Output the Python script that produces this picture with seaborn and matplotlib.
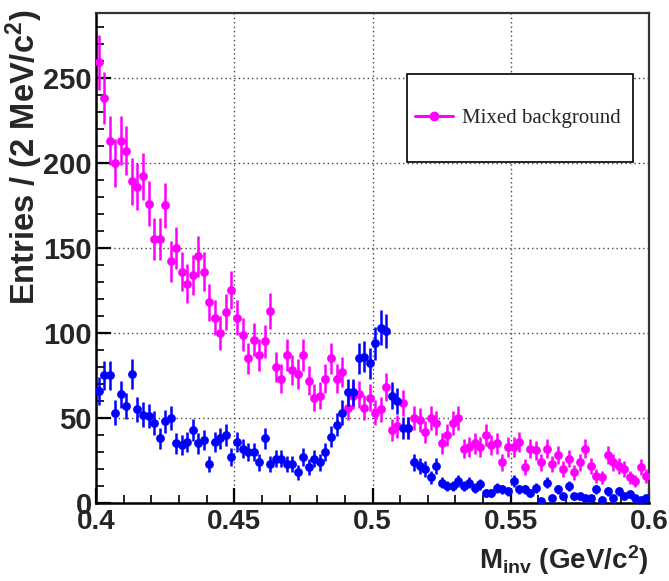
import numpy as np
import pandas as pd
import seaborn as sns
import matplotlib
matplotlib.use("Agg")
import matplotlib.pyplot as plt
from matplotlib.patches import Rectangle
from matplotlib.lines import Line2D
from matplotlib.ticker import MultipleLocator

# Invariant-mass histogram: 2 MeV/c^2 bins between 0.40 and 0.60 GeV/c^2
mass_lo = 0.400
bin_width = 0.002
n_bins = 100
bin_centers = np.round(mass_lo + bin_width * (np.arange(n_bins) + 0.5), 4)

# Entries per bin, mixed-event background
mixed_background = [
    259, 238, 213, 200, 213, 207, 189, 186, 192, 176,
    155, 155, 175, 142, 150, 136, 129, 134, 145, 136,
    118, 109, 100, 112, 125, 109, 99, 85, 96, 87,
    95, 113, 80, 73, 87, 78, 76, 87, 72, 62,
    63, 73, 85, 73, 77, 56, 63, 64, 56, 62,
    53, 55, 68, 43, 45, 59, 44, 50, 49, 42,
    50, 47, 35, 40, 47, 50, 32, 33, 35, 33,
    40, 34, 35, 24, 33, 33, 36, 21, 32, 31,
    24, 32, 23, 28, 20, 26, 18, 24, 32, 22,
    16, 15, 28, 24, 22, 20, 15, 13, 21, 16,
]

# Entries per bin, same-event pairs
same_event = [
    66, 75, 75, 53, 64, 57, 76, 55, 52, 51,
    47, 38, 48, 50, 35, 34, 36, 43, 35, 37,
    23, 36, 38, 40, 27, 36, 32, 30, 30, 24,
    38, 23, 26, 26, 23, 23, 18, 27, 21, 26,
    24, 30, 39, 46, 53, 65, 65, 85, 86, 82,
    94, 103, 101, 63, 60, 44, 44, 24, 22, 20,
    15, 22, 12, 10, 10, 13, 10, 12, 9, 11,
    6, 6, 9, 8, 7, 13, 8, 8, 6, 9,
    1, 12, 3, 8, 4, 10, 4, 4, 3, 3,
    8, 2, 7, 3, 7, 4, 5, 3, 2, 3,
]

x_ticks = [0.4, 0.45, 0.5, 0.55, 0.6]
x_tick_labels = ["0.4", "0.45", "0.5", "0.55", "0.6"]
y_ticks = [0, 50, 100, 150, 200, 250]

MAGENTA = "#ff00ff"
BLUE = "#0000ff"

sns.set_theme(style="ticks")
plt.rcParams["font.family"] = ["Liberation Sans"]
plt.rcParams["font.weight"] = "bold"
plt.rcParams["mathtext.default"] = "regular"

df = pd.DataFrame({
    "mass": np.concatenate([bin_centers, bin_centers]),
    "entries": np.concatenate([mixed_background, same_event]).astype(float),
    "sample": ["mixed"] * n_bins + ["same"] * n_bins,
})
df["err"] = np.sqrt(df["entries"])

fig = plt.figure(figsize=(6.69, 5.81), dpi=100)
ax = fig.add_axes([96 / 669, 1 - 503 / 581, 553 / 669, 490 / 581])

for sample, color, z in [("mixed", MAGENTA, 3), ("same", BLUE, 4)]:
    d = df[df["sample"] == sample]
    ax.errorbar(d["mass"], d["entries"], yerr=d["err"], xerr=bin_width / 2,
                fmt="none", ecolor=color, elinewidth=1.8, capsize=0, zorder=z)
    sns.scatterplot(data=d, x="mass", y="entries", color=color, s=40,
                    linewidth=0, marker="o", ax=ax, zorder=z + 0.5, legend=False)

ax.set_xlim(0.4, 0.6)
ax.set_ylim(0, 288)
ax.set_xticks(x_ticks)
ax.set_xticklabels(x_tick_labels)
ax.set_yticks(y_ticks)
ax.xaxis.set_minor_locator(MultipleLocator(0.01))
ax.yaxis.set_minor_locator(MultipleLocator(10))

ax.grid(True, which="major", color="#444444", linestyle=(0, (1, 2.2)), linewidth=1.0)
ax.set_axisbelow(True)

ax.tick_params(axis="both", which="major", direction="in", length=11, width=1.6,
               color="black", top=False, right=False)
ax.tick_params(axis="both", which="minor", direction="in", length=5.5, width=1.2,
               color="black", top=False, right=False)
ax.tick_params(axis="y", which="major", pad=3, labelsize=21)
ax.tick_params(axis="x", which="major", pad=4, labelsize=20)
for lab in ax.get_xticklabels() + ax.get_yticklabels():
    lab.set_fontweight("bold")

for side in ["left", "bottom"]:
    ax.spines[side].set_linewidth(1.8)
    ax.spines[side].set_color("black")
for side in ["top", "right"]:
    ax.spines[side].set_linewidth(1.6)
    ax.spines[side].set_color("#333333")

ax.set_xlabel(r"M$_{inv}$ (GeV/c$^{2}$)", fontsize=20, fontweight="bold", loc="right")
ax.xaxis.set_label_coords(1.0, -0.082)
ax.set_ylabel(r"Entries / (2 MeV/c$^{2}$)", fontsize=23.5, fontweight="bold", loc="top")
ax.yaxis.set_label_coords(-(96 - 45) / 553, 1.006)

# Legend box
box = Rectangle((0.5624, 0.696), 0.4086, 0.1796, transform=ax.transAxes,
                facecolor="white", edgecolor="black", linewidth=1.2, zorder=6)
ax.add_patch(box)
handle = Line2D([], [], color=MAGENTA, linewidth=2.2, marker="o", markersize=6)
leg = ax.legend([handle], ["Mixed background"], loc="center left",
                bbox_to_anchor=(0.5769, 0.7857), frameon=False, borderpad=0,
                borderaxespad=0, handlelength=1.8, handletextpad=0.45,
                prop={"family": "Liberation Serif", "size": 15, "weight": "normal"})
leg.set_zorder(7)

fig.savefig("out.png", dpi=100)
